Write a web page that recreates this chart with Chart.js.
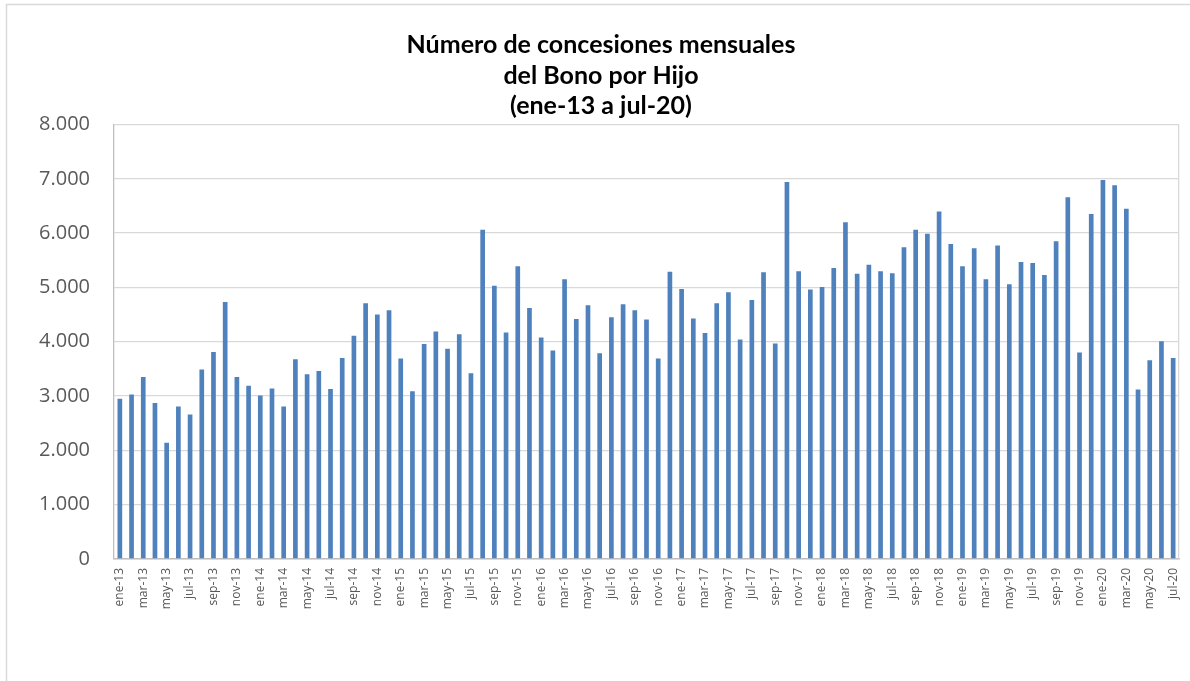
<!DOCTYPE html>
<html>
<head>
<meta charset="utf-8">
<script src="https://cdn.jsdelivr.net/npm/chart.js@4"></script>
<style>
html,body{margin:0;padding:0;background:#fff;overflow:hidden;}
#wrap{position:relative;width:1190px;height:681px;}
</style>
</head>
<body>
<div id="wrap"><canvas id="c" width="1190" height="681"></canvas></div>
<script>
const monthAbbr = ['ene','feb','mar','abr','may','jun','jul','ago','sep','oct','nov','dic'];
const years = ['13','14','15','16','17','18','19','20'];
const categories = [];
for (const y of years) for (const m of monthAbbr) categories.push(m + '-' + y);
categories.length = 91; // ene-13 .. jul-20

const titleLines = ['Número de concesiones mensuales', 'del Bono por Hijo', '(ene-13 a jul-20)'];

const concesiones = [
  2950, 3030, 3350, 2870, 2140, 2810, 2660, 3490, 3810, 4730, 3350, 3190,
  3010, 3140, 2810, 3680, 3400, 3460, 3130, 3700, 4110, 4710, 4500, 4580,
  3690, 3090, 3960, 4190, 3870, 4140, 3420, 6060, 5030, 4170, 5390, 4620,
  4080, 3840, 5150, 4420, 4670, 3790, 4450, 4690, 4580, 4410, 3690, 5290,
  4970, 4430, 4160, 4710, 4910, 4040, 4770, 5280, 3970, 6940, 5300, 4960,
  5010, 5360, 6200, 5250, 5420, 5300, 5260, 5740, 6060, 5990, 6400, 5800,
  5390, 5720, 5150, 5770, 5060, 5470, 5450, 5230, 5850, 6660, 3800, 6350,
  6980, 6880, 6450, 3120, 3660, 4010, 3700
];

const yTicks = [0, 1000, 2000, 3000, 4000, 5000, 6000, 7000, 8000];

const outerBorder = {
  id: 'outerBorder',
  beforeDraw(chart) {
    const ctx = chart.ctx;
    ctx.save();
    ctx.fillStyle = '#fff';
    ctx.fillRect(0, 0, chart.width, chart.height);
    ctx.strokeStyle = '#D9D9D9';
    ctx.lineWidth = 1.5;
    ctx.strokeRect(6.5, 4.5, 1220, 700);
    ctx.restore();
  }
};

const fmt = v => String(v).replace(/\B(?=(\d{3})+(?!\d))/g, '.');

new Chart(document.getElementById('c'), {
  type: 'bar',
  data: {
    labels: categories,
    datasets: [{
      data: concesiones,
      backgroundColor: '#4F81BD',
      borderWidth: 0,
      categoryPercentage: 1,
      barPercentage: 0.4
    }]
  },
  options: {
    responsive: false,
    animation: false,
    layout: { padding: { left: 23, right: 11, top: 0, bottom: 0 } },
    plugins: {
      legend: { display: false },
      tooltip: { enabled: false },
      title: {
        display: true,
        text: titleLines,
        color: '#000',
        font: { family: 'Lato', size: 25, weight: 'bold', lineHeight: 1.22 },
        padding: { top: 30, bottom: 3 }
      }
    },
    scales: {
      x: {
        grid: { display: false, drawTicks: false },
        border: { color: '#BFBFBF', width: 1.5 },
        ticks: {
          autoSkip: false,
          minRotation: 90,
          maxRotation: 90,
          padding: 9,
          color: '#595959',
          font: { family: 'Open Sans', size: 12 },
          callback: (v, i) => (i % 2 === 0 ? categories[i] : '')
        },
        afterFit: s => { s.height = 122; s.paddingLeft = 0; s.paddingRight = 0; }
      },
      y: {
        min: 0,
        max: 8000,
        grid: { color: '#D9D9D9', lineWidth: 1.3, drawTicks: false },
        border: { color: '#BFBFBF', width: 1.3 },
        afterBuildTicks: s => { s.ticks = yTicks.map(v => ({ value: v })); },
        ticks: {
          padding: 24,
          color: '#595959',
          font: { family: 'Open Sans', size: 20 },
          callback: v => fmt(v)
        },
        afterFit: s => { s.width = 91; }
      },
      y2: {
        position: 'right',
        min: 0,
        max: 8000,
        grid: { display: false, drawTicks: false },
        border: { color: '#D9D9D9', width: 1.3 },
        ticks: { display: false },
        afterFit: s => { s.width = 0; }
      }
    }
  },
  plugins: [outerBorder]
});
</script>
</body>
</html>
